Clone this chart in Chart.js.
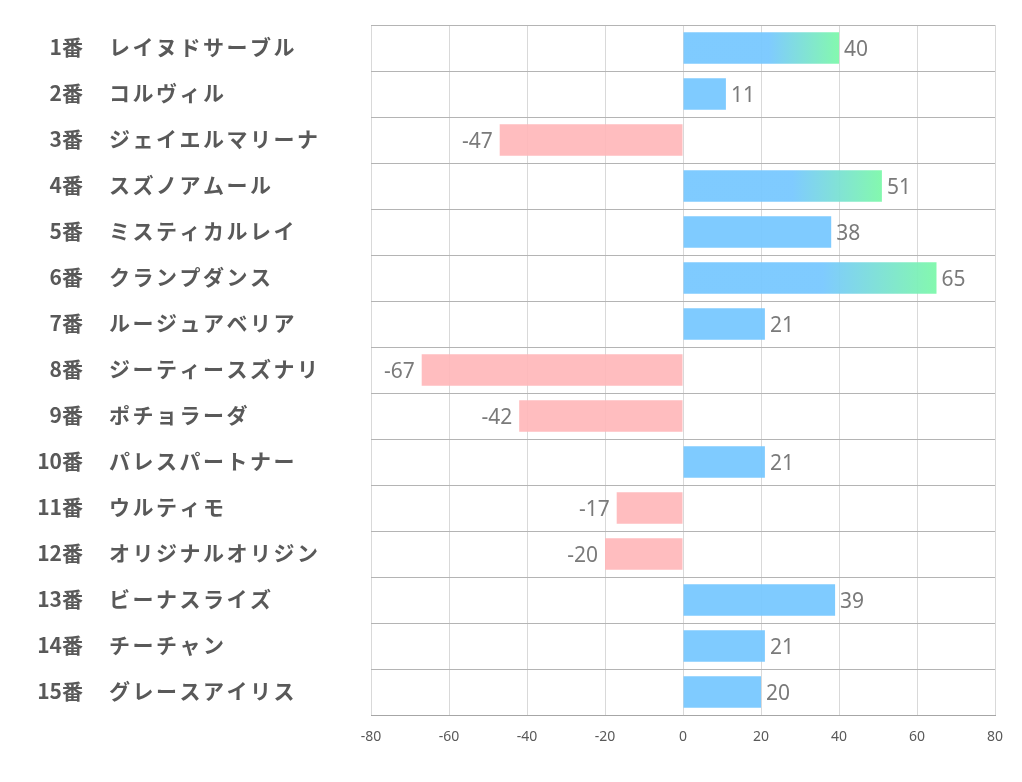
<!DOCTYPE html>
<html>
<head>
<meta charset="utf-8">
<script src="https://cdn.jsdelivr.net/npm/chart.js@4"></script>
<style>
  html, body { margin: 0; padding: 0; background: #fff; }
  #wrap { width: 1022px; height: 782px; }
</style>
</head>
<body>
<div id="wrap"><canvas id="grafico"></canvas></div>
<script>
// datos del gráfico
const numeros = ["1番", "2番", "3番", "4番", "5番", "6番", "7番", "8番", "9番", "10番", "11番", "12番", "13番", "14番", "15番"];
const nombres = ["レイヌドサーブル", "コルヴィル", "ジェイエルマリーナ", "スズノアムール", "ミスティカルレイ", "クランプダンス", "ルージュアベリア", "ジーティースズナリ", "ポチョラーダ", "パレスパートナー", "ウルティモ", "オリジナルオリジン", "ビーナスライズ", "チーチャン", "グレースアイリス"];
const valores = [40, 11, -47, 51, 38, 65, 21, -67, -42, 21, -17, -20, 39, 21, 20];
const ticksX = [-80, -60, -40, -20, 0, 20, 40, 60, 80];

const AZUL = "rgba(120,200,255,0.95)";
const VERDE = "rgba(125,248,170,0.95)";
const ROSA = "rgba(255,183,186,0.92)";

function colorBarra(ctx) {
  const v = valores[ctx.dataIndex];
  if (v < 0) return ROSA;
  if (v < 40) return AZUL;
  const chart = ctx.chart;
  if (!chart.chartArea) return AZUL;
  const x = chart.scales.x;
  const g = chart.ctx.createLinearGradient(x.getPixelForValue(0), 0, x.getPixelForValue(v), 0);
  g.addColorStop(0, AZUL);
  g.addColorStop(0.55, AZUL);
  g.addColorStop(1, VERDE);
  return g;
}

// etiquetas de la izquierda y valores de las barras
const etiquetas = {
  id: "etiquetas",
  afterDatasetsDraw(chart) {
    const c = chart.ctx;
    const meta = chart.getDatasetMeta(0);
    c.save();
    c.font = "21px 'Noto Sans', 'Liberation Sans', sans-serif";
    c.fillStyle = "#7a7a7a";
    c.textBaseline = "middle";
    meta.data.forEach((bar, i) => {
      const v = valores[i];
      if (v >= 0) {
        c.textAlign = "left";
        c.fillText(String(v), bar.x + 5, bar.y + 2);
      } else {
        c.textAlign = "right";
        c.fillText(String(v), bar.x - 7, bar.y + 2);
      }
    });
    const y = chart.scales.y;
    c.font = "bold 21px 'Noto Sans CJK JP', sans-serif";
    c.fillStyle = "#595959";
    numeros.forEach((n, i) => {
      const py = y.getPixelForValue(i);
      c.letterSpacing = "0px";
      c.textAlign = "right";
      c.fillText(n, 83, py - 1);
      c.letterSpacing = "2.5px";
      c.textAlign = "left";
      c.fillText(nombres[i], 109, py - 1);
    });
    c.restore();
  }
};

new Chart(document.getElementById("grafico"), {
  type: "bar",
  data: {
    labels: numeros,
    datasets: [{
      data: valores,
      backgroundColor: colorBarra,
      borderWidth: 0,
      barPercentage: 0.68,
      categoryPercentage: 1
    }]
  },
  options: {
    indexAxis: "y",
    responsive: true,
    maintainAspectRatio: false,
    animation: false,
    layout: { padding: { top: 25, right: 27, bottom: 27, left: 0 } },
    plugins: {
      legend: { display: false },
      tooltip: { enabled: false }
    },
    scales: {
      x: {
        min: -80,
        max: 80,
        afterBuildTicks: (scale) => { scale.ticks = ticksX.map(v => ({ value: v })); },
        afterFit: (scale) => { scale.height = 40; },
        grid: { color: "#d9d9d9", drawTicks: false },
        border: { color: "#a6a6a6" },
        ticks: {
          padding: 14,
          color: "#595959",
          font: { size: 14, family: "'Noto Sans', 'Liberation Sans', sans-serif" }
        }
      },
      y: {
        afterFit: (scale) => { scale.width = 371; },
        grid: { color: "#b4b4b4", offset: true, drawTicks: false },
        border: { display: false },
        ticks: { display: false }
      }
    }
  },
  plugins: [etiquetas]
});
</script>
</body>
</html>
